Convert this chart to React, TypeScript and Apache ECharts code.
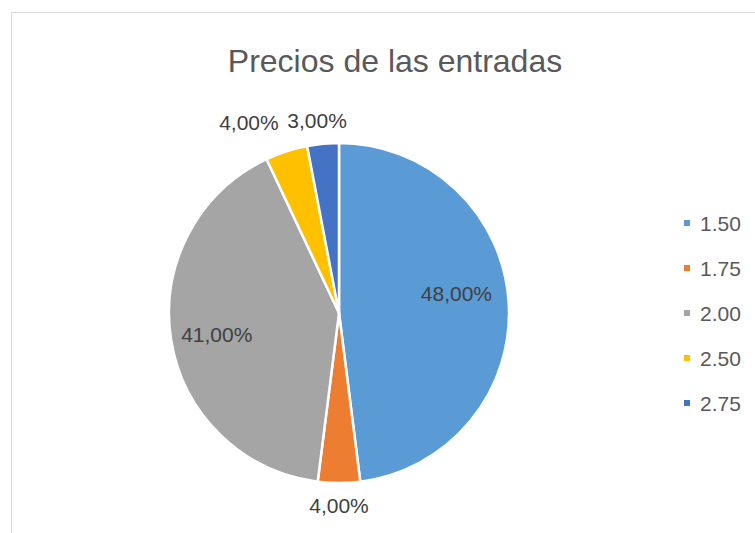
import React, { useEffect, useRef } from "react";
import * as echarts from "echarts";

const categories = ["1.50", "1.75", "2.00", "2.50", "2.75"];
const values = [48, 4, 41, 4, 3];
const colors = ["#5B9BD5", "#ED7D31", "#A5A5A5", "#FFC000", "#4472C4"];
const titleText = "Precios de las entradas";

// label placement, expressed as fraction of radius and angle tweak (deg) from slice mid-angle
const labelRadius = [0.7, 1.13, 0.73, 1.24, 1.14];
const labelAngleShift = [-5.8, 0, -1, -7.3, -1.1];

const W = 755;
const H = 533;
const CX = 339;
const CY = 313;
const R = 170;
const FONT = "'Liberation Sans', Arial, sans-serif";

export default function App() {
  const ref = useRef<HTMLDivElement>(null);
  useEffect(() => {
    if (!ref.current) return;
    const chart = echarts.init(ref.current, null, { renderer: "svg" });
    const total = values.reduce((a, b) => a + b, 0);
    const cum: number[] = [0];
    values.forEach((v, i) => cum.push(cum[i] + v));
    chart.setOption({
      animation: false,
      backgroundColor: "#ffffff",
      title: {
        text: titleText,
        left: 390,
        top: 40,
        textAlign: "center",
        textStyle: {
          fontFamily: FONT,
          fontSize: 32,
          fontWeight: "normal",
          color: "#595959",
        },
      },
      graphic: [
        {
          type: "rect",
          shape: { x: 11.5, y: 12.5, width: 900, height: 700 },
          style: { fill: "none", stroke: "#d9d9d9", lineWidth: 1 },
          silent: true,
        },
      ],
      legend: {
        orient: "vertical",
        left: 682,
        top: 212,
        padding: 0,
        itemWidth: 8,
        itemHeight: 8,
        itemGap: 23,
        icon: "rect",
        textStyle: {
          fontFamily: FONT,
          fontSize: 21,
          lineHeight: 22,
          color: "#595959",
          padding: [0, 0, 0, 4],
        },
        data: categories,
      },
      series: [
        {
          type: "pie",
          center: [CX, CY],
          radius: R,
          startAngle: 90,
          clockwise: true,
          avoidLabelOverlap: false,
          itemStyle: { borderColor: "#ffffff", borderWidth: 2.5 },
          label: {
            show: true,
            position: "inside",
            fontFamily: FONT,
            fontSize: 21,
            color: "#404040",
            formatter: (p: any) => `${Number(p.value).toFixed(2).replace(".", ",")}%`,
          },
          labelLine: { show: false },
          labelLayout: (params: any) => {
            const i = params.dataIndex;
            const mid =
              ((cum[i] + cum[i + 1]) / 2 / total) * 2 * Math.PI +
              (labelAngleShift[i] * Math.PI) / 180;
            const d = R * labelRadius[i];
            return {
              x: CX + d * Math.sin(mid),
              y: CY - d * Math.cos(mid),
              align: "center",
              verticalAlign: "middle",
            };
          },
          data: categories.map((c, i) => ({
            name: c,
            value: values[i],
            itemStyle: { color: colors[i] },
          })),
        },
      ],
    });
    return () => chart.dispose();
  }, []);
  return (
    <div
      ref={ref}
      style={{ position: "absolute", left: 0, top: 0, width: W, height: H }}
    />
  );
}
